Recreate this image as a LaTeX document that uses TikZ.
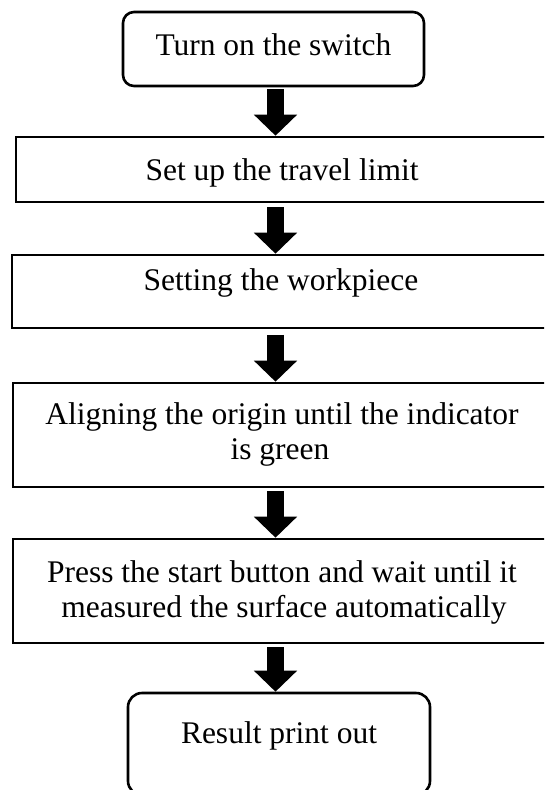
\documentclass[tikz,border=0pt]{standalone}
\usepackage{fontspec}
\setmainfont{Liberation Serif}
\usetikzlibrary{arrows.meta}
\begin{document}
\begin{tikzpicture}[x=1pt,y=-1pt,
  boxst/.style={draw=black, line width=2.6pt, inner sep=0pt, fill=white},
  rbox/.style={boxst, rounded corners=11pt},
  txt/.style={font=\fontsize{31.5}{35.5}\selectfont, inner sep=0pt, anchor=base},
  flow/.style={line width=17.5pt, -{Triangle[width=42pt,length=21pt]}}]
\useasboundingbox (0,0) rectangle (544,790);
\clip (0,0) rectangle (544,790);
\fill[white] (0,0) rectangle (544,790);
\coordinate (ax) at (275.5,0);
% boxes
\node[rbox, minimum width=301pt, minimum height=74pt] (b1) at (273.5,49) {};
\node[boxst, minimum width=534pt, minimum height=65pt] (b2) at (283,169.5) {};
\node[boxst, minimum width=540pt, minimum height=73pt] (b3) at (282,291.5) {};
\node[boxst, minimum width=539pt, minimum height=104pt] (b4) at (282.5,435) {};
\node[boxst, minimum width=539pt, minimum height=104pt] (b5) at (282.5,591) {};
\node[boxst, rounded corners=14pt, minimum width=302pt, minimum height=102pt] (b6) at (279,744) {};
% texts
\node[txt] (t1) at (273.5,55) {Turn on the switch};
\node[txt] (t2) at (282,180) {Set up the travel limit};
\node[txt] (t3) at (281,290) {Setting the workpiece};
\node[txt] (t4a) at (282,424) {Aligning the origin until the indicator};
\node[txt] (t4b) at (280,459) {is green};
\node[txt] (t5a) at (282,582) {Press the start button and wait until it};
\node[txt] (t5b) at (284,617) {measured the surface automatically};
\node[txt] (t6) at (279,743) {Result print out};
% arrows
\draw[flow] ([yshift=-1.7pt]b1.south -| ax) -- (b2.north -| ax);
\draw[flow] ([yshift=-4pt]b2.south -| ax) -- (b3.north -| ax);
\draw[flow] ([yshift=-5.5pt]b3.south -| ax) -- (b4.north -| ax);
\draw[flow] ([yshift=-3pt]b4.south -| ax) -- (b5.north -| ax);
\draw[flow] ([yshift=-3pt]b5.south -| ax) -- (b6.north -| ax);
\end{tikzpicture}
\end{document}
